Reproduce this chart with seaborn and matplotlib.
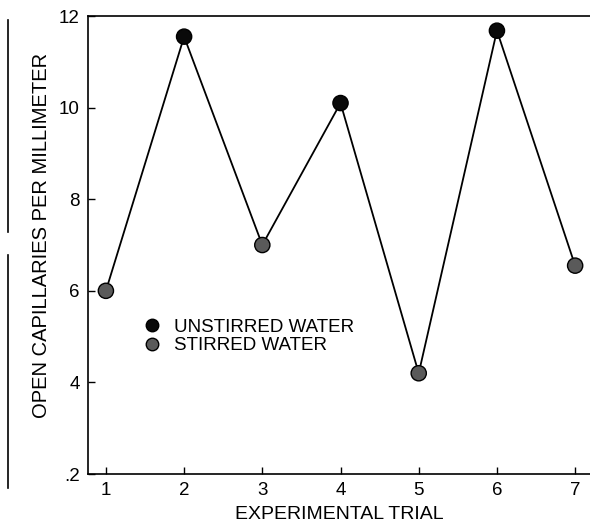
import matplotlib
matplotlib.use("Agg")
import matplotlib.pyplot as plt
import pandas as pd
import seaborn as sns

# Values.
trials = [1, 2, 3, 4, 5, 6, 7]
capillaries = [6.0, 11.55, 7.0, 10.1, 4.2, 11.68, 6.55]
water = ["STIRRED WATER", "UNSTIRRED WATER", "STIRRED WATER", "UNSTIRRED WATER",
         "STIRRED WATER", "UNSTIRRED WATER", "STIRRED WATER"]
y_ticks = [2, 4, 6, 8, 10, 12]
y_tick_labels = [".2", "4", "6", "8", "10", "12"]


def main() -> None:
    sns.set_theme(style="white")
    plt.rcParams["font.family"] = ["Liberation Sans", "DejaVu Sans"]
    plt.rcParams["text.color"] = "black"
    plt.rcParams["axes.labelcolor"] = "black"

    df = pd.DataFrame({"trial": trials, "value": capillaries, "water": water})

    fig = plt.figure(figsize=(5.9, 5.24), dpi=100)
    ax = fig.add_axes([0.149, 0.0954, 0.851, 0.874])

    # Clipped frames of the neighbouring figure on the left edge.
    for bottom, height in [(0.557, 0.405), (0.069, 0.445)]:
        side = fig.add_axes([-0.2, bottom, 0.213, height])
        side.set_xticks([])
        side.set_yticks([])
        for name, spine in side.spines.items():
            spine.set_visible(name == "right")
            spine.set_color("black")
            spine.set_linewidth(1.2)

    sns.lineplot(data=df, x="trial", y="value", color="black", linewidth=1.3, ax=ax,
                 zorder=1)
    sns.scatterplot(
        data=df,
        x="trial",
        y="value",
        hue="water",
        hue_order=["UNSTIRRED WATER", "STIRRED WATER"],
        palette={"UNSTIRRED WATER": "#0a0a0a", "STIRRED WATER": "#5a5a5a"},
        s=120,
        edgecolor="black",
        linewidth=1.0,
        ax=ax,
        zorder=3,
    )

    ax.set_xlim(0.77, 7.19)
    ax.set_ylim(2, 12)
    ax.set_xticks(trials)
    ax.set_yticks(y_ticks)
    ax.set_yticklabels(y_tick_labels)
    ax.tick_params(direction="in", length=5, width=1, colors="black",
                   labelsize=13.5, left=True, bottom=True, pad=6)
    ax.set_xlabel("EXPERIMENTAL TRIAL", fontsize=14, labelpad=5)
    ax.set_ylabel("OPEN CAPILLARIES PER MILLIMETER", fontsize=14.5)
    ax.yaxis.set_label_coords(-0.074, 0.522)
    for name, spine in ax.spines.items():
        spine.set_color("black")
        spine.set_linewidth(1.2)
    ax.spines["right"].set_visible(False)

    leg = ax.legend(
        loc="upper left",
        bbox_to_anchor=(0.075, 0.355),
        frameon=False,
        fontsize=13.5,
        handletextpad=0.2,
        labelspacing=0.05,
        borderaxespad=0,
    )
    for handle in leg.legend_handles:
        handle.set_markersize(9)

    fig.savefig("out.png", dpi=100)
    plt.close(fig)


if __name__ == "__main__":
    main()
